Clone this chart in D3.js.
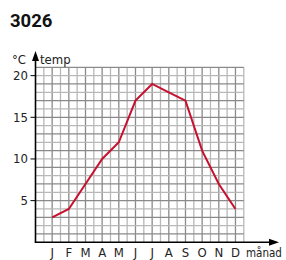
<!DOCTYPE html>
<html>
<head>
<meta charset="utf-8">
<script src="https://cdn.jsdelivr.net/npm/d3@7.9.0/dist/d3.min.js"></script>
<style>
  body { margin: 0; background: #fff; }
  text { font-family: "DejaVu Sans Condensed", "Liberation Sans Narrow", Roboto, sans-serif; fill: #222; }
</style>
</head>
<body>
<svg width="286" height="260"></svg>
<script>
const months = ['J', 'F', 'M', 'A', 'M', 'J', 'J', 'A', 'S', 'O', 'N', 'D'];
const temps = [3, 4, 7, 10, 12, 17, 19, 18, 17, 11, 7, 4];
const yTicks = [5, 10, 15, 20];

const svg = d3.select('svg');

// grid is 25 cells wide, 21 high; months sit on every second cell
const x = d3.scaleLinear().domain([0, 25]).range([35.5, 243.8]);
const y = d3.scaleLinear().domain([0, 21]).range([242.3, 67.3]);

const grid = svg.append('g');
d3.range(1, 26).forEach(i => {
  grid.append('line')
    .attr('x1', x(i)).attr('x2', x(i))
    .attr('y1', y(0)).attr('y2', y(21))
    .attr('stroke', i % 2 === 0 ? '#8a8a8a' : '#b8b8b8')
    .attr('stroke-width', 1.3);
});
d3.range(1, 22).forEach(j => {
  grid.append('line')
    .attr('x1', x(0)).attr('x2', x(25))
    .attr('y1', y(j)).attr('y2', y(j))
    .attr('stroke', j % 2 === 1 ? '#8a8a8a' : '#b8b8b8')
    .attr('stroke-width', 1.3);
});

// the temperature line
const line = d3.line()
  .x((d, i) => x(2 + 2 * i))
  .y(d => y(d));
svg.append('path')
  .datum(temps)
  .attr('d', line)
  .attr('fill', 'none')
  .attr('stroke', '#c8102e')
  .attr('stroke-width', 2)
  .attr('stroke-linejoin', 'miter');

// axes with arrows
svg.append('line')
  .attr('x1', x(0)).attr('x2', x(0))
  .attr('y1', y(0)).attr('y2', 58)
  .attr('stroke', '#000').attr('stroke-width', 1.6);
svg.append('path')
  .attr('d', `M${x(0)},51 L${x(0) - 3.5},61 L${x(0) + 3.5},61 Z`)
  .attr('fill', '#000');
svg.append('line')
  .attr('x1', x(0) - 0.8).attr('x2', 272)
  .attr('y1', y(0)).attr('y2', y(0))
  .attr('stroke', '#000').attr('stroke-width', 1.6);
svg.append('path')
  .attr('d', `M279,${y(0)} L269,${y(0) - 3.5} L269,${y(0) + 3.5} Z`)
  .attr('fill', '#000');

// y ticks
yTicks.forEach(t => {
  svg.append('line')
    .attr('x1', x(0) - 5).attr('x2', x(0))
    .attr('y1', y(t)).attr('y2', y(t))
    .attr('stroke', '#000').attr('stroke-width', 1);
  svg.append('text')
    .attr('x', 28).attr('y', y(t) + 4.5)
    .attr('text-anchor', 'end')
    .attr('font-size', 13)
    .text(t);
});

// month labels
months.forEach((m, i) => {
  svg.append('text')
    .attr('x', x(2 + 2 * i)).attr('y', 257)
    .attr('text-anchor', 'middle')
    .attr('font-size', 13)
    .text(m);
});

svg.append('text').attr('x', 12).attr('y', 64).attr('font-size', 13).text('°C');
svg.append('text').attr('x', 40).attr('y', 64).attr('font-size', 13).text('temp');
svg.append('text').attr('x', 246).attr('y', 257).attr('font-size', 11.5).text('månad');

svg.append('text')
  .attr('x', 10).attr('y', 27)
  .attr('font-size', 18.5).attr('font-weight', 'bold')
  .style('font-family', 'Roboto, "DejaVu Sans", sans-serif')
  .style('fill', '#111')
  .text('3026');
</script>
</body>
</html>
